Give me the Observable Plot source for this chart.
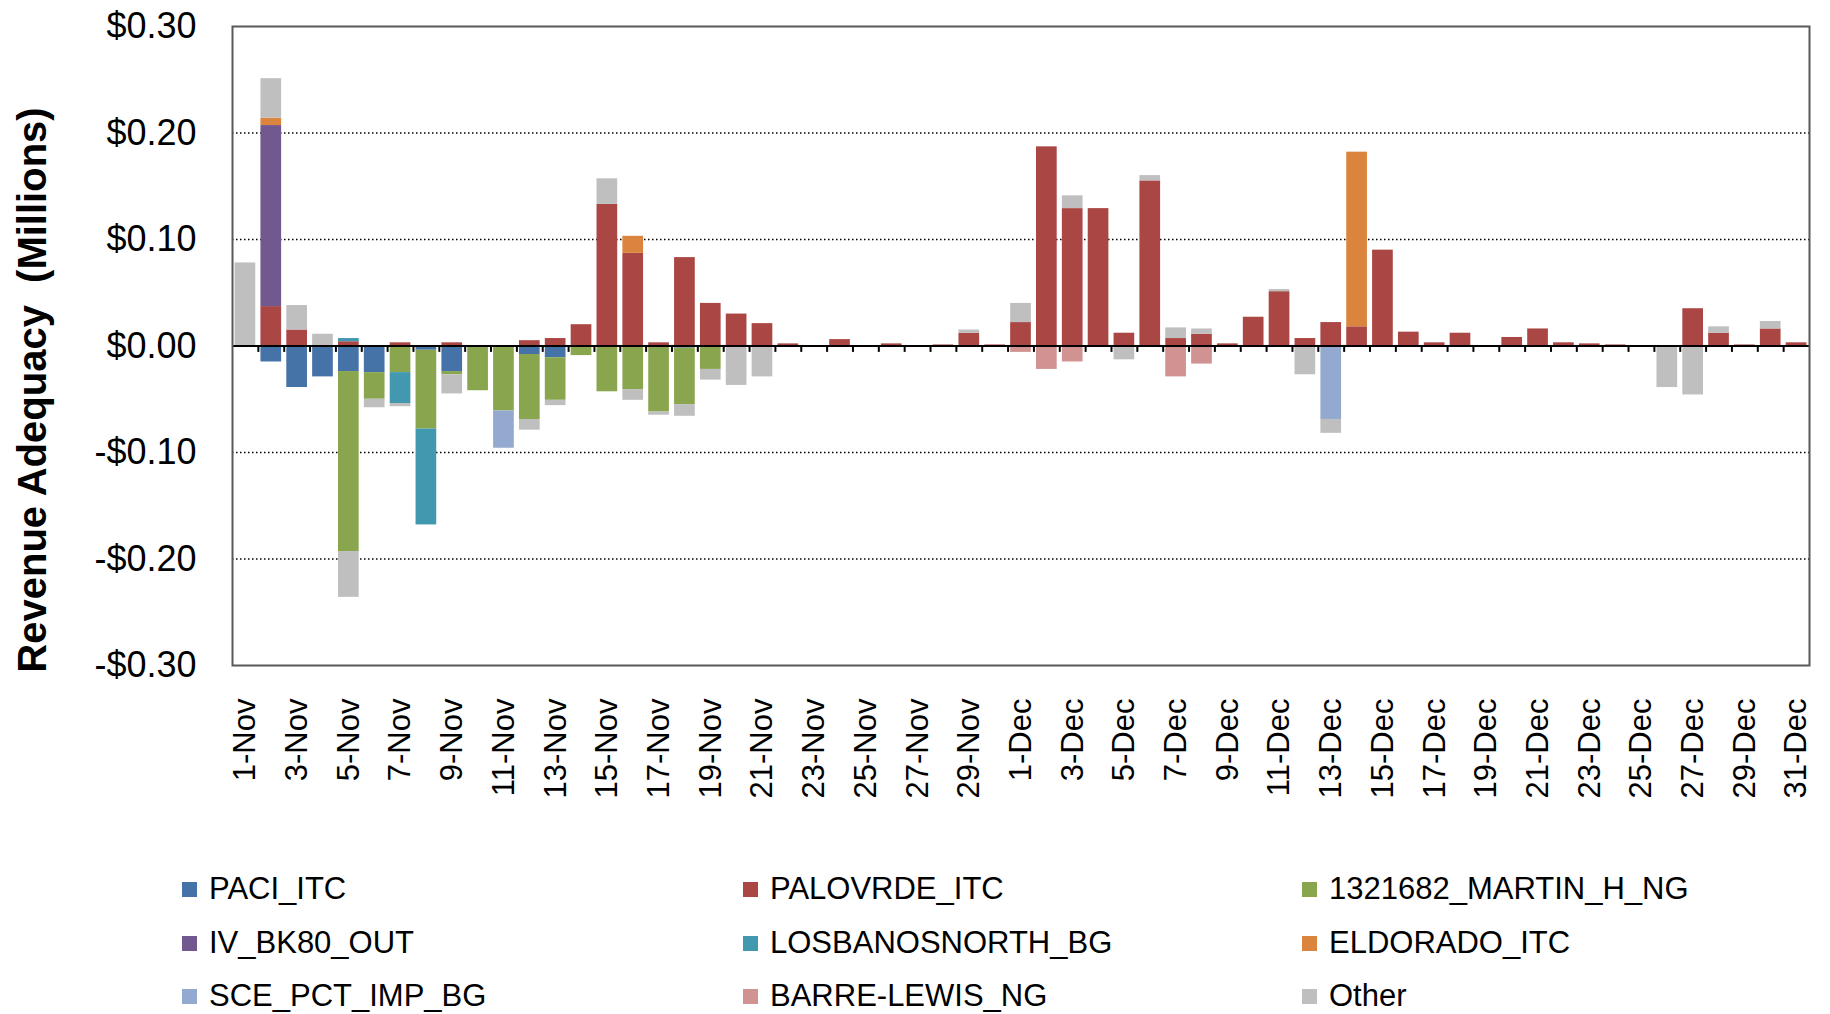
<!DOCTYPE html>
<html><head><meta charset="utf-8">
<script src="https://cdn.jsdelivr.net/npm/d3@7"></script>
<script src="https://cdn.jsdelivr.net/npm/@observablehq/plot@0.6"></script>
<style>
body{margin:0;background:#fff;font-family:"Liberation Sans",Arial,sans-serif;}
#wrap{position:relative;width:1830px;height:1014px;overflow:hidden;background:#fff;}
#chart{position:absolute;left:0;top:0;}
#ytitle{position:absolute;left:32px;top:390px;transform:translate(-50%,-50%) rotate(-90deg);white-space:pre;font-weight:bold;font-size:40px;color:#000;}
.item{position:absolute;display:flex;align-items:center;font-size:31px;line-height:32px;color:#000;white-space:nowrap;}
.sw{width:15px;height:15px;margin-right:12px;flex:none;}
</style></head><body>
<div id="wrap"><div id="chart"></div><div id="ytitle">Revenue Adequacy  (Millions)</div><div id="legend"></div></div>
<script>
const days = ["1-Nov","2-Nov","3-Nov","4-Nov","5-Nov","6-Nov","7-Nov","8-Nov","9-Nov","10-Nov",
"11-Nov","12-Nov","13-Nov","14-Nov","15-Nov","16-Nov","17-Nov","18-Nov","19-Nov","20-Nov",
"21-Nov","22-Nov","23-Nov","24-Nov","25-Nov","26-Nov","27-Nov","28-Nov","29-Nov","30-Nov",
"1-Dec","2-Dec","3-Dec","4-Dec","5-Dec","6-Dec","7-Dec","8-Dec","9-Dec","10-Dec",
"11-Dec","12-Dec","13-Dec","14-Dec","15-Dec","16-Dec","17-Dec","18-Dec","19-Dec","20-Dec",
"21-Dec","22-Dec","23-Dec","24-Dec","25-Dec","26-Dec","27-Dec","28-Dec","29-Dec","30-Dec","31-Dec"];
const labelDays = days.filter((d, i) => i % 2 === 0);
const yTicks = [-0.3, -0.2, -0.1, 0, 0.1, 0.2, 0.3];
const gridTicks = [-0.2, -0.1, 0.1, 0.2];

const series = ["PACI_ITC","PALOVRDE_ITC","1321682_MARTIN_H_NG","IV_BK80_OUT","LOSBANOSNORTH_BG","ELDORADO_ITC","SCE_PCT_IMP_BG","BARRE-LEWIS_NG","Other"];
const colors = ["#4572A7","#AA4643","#89A54E","#71588F","#4198AF","#DB843D","#93A9CF","#D19392","#BFBFBF"];

// values in $ millions, Nov 1 .. Dec 31
const paci = [0,-0.015,-0.039,-0.029,-0.024,-0.025,0,-0.004,-0.024,0,
0,-0.008,-0.011,0,0,0,0,-0.002,0,0,
0,0,0,0,0,0,0,0,0,0,
0,0,0,0,0,0,0,0,0,0,
0,0,0,0,0,0,0,0,0,0,
0,0,0,0,0,0,0,0,0,0,0];
const palovrde = [0,0.037,0.015,0,0.004,0,0.003,0,0.003,0,
0,0.005,0.007,0.020,0.133,0.087,0.003,0.083,0.040,0.030,
0.021,0.002,0,0.006,0,0.002,0,0.001,0.012,0.001,
0.022,0.187,0.129,0.129,0.012,0.155,0.007,0.011,0.002,0.027,
0.051,0.007,0.022,0.018,0.090,0.013,0.003,0.012,0,0.008,
0.016,0.003,0.002,0.001,0,0,0.035,0.012,0.001,0.016,0.003];
const martin = [0,0,0,0,-0.169,-0.025,-0.025,-0.074,-0.003,-0.042,
-0.061,-0.061,-0.040,-0.009,-0.043,-0.041,-0.062,-0.053,-0.022,0,
0,0,0,0,0,0,0,0,0,0,
0,0,0,0,0,0,0,0,0,0,
0,0,0,0,0,0,0,0,0,0,
0,0,0,0,0,0,0,0,0,0,0];
const ivbk80 = [0,0.170,0,0,0,0,0,0,0,0,
0,0,0,0,0,0,0,0,0,0,
0,0,0,0,0,0,0,0,0,0,
0,0,0,0,0,0,0,0,0,0,
0,0,0,0,0,0,0,0,0,0,
0,0,0,0,0,0,0,0,0,0,0];
const losbanos = [0,0,0,0,0.003,0,-0.029,-0.090,0,0,
0,0,0,0,0,0,0,0,0,0,
0,0,0,0,0,0,0,0,0,0,
0,0,0,0,0,0,0,0,0,0,
0,0,0,0,0,0,0,0,0,0,
0,0,0,0,0,0,0,0,0,0,0];
const eldorado = [0,0.007,0,0,0,0,0,0,0,0,
0,0,0,0,0,0.016,0,0,0,0,
0,0,0,0,0,0,0,0,0,0,
0,0,0,0,0,0,0,0,0,0,
0,0,0,0.164,0,0,0,0,0,0,
0,0,0,0,0,0,0,0,0,0,0];
const scepct = [0,0,0,0,0,0,0,0,0,0,
-0.035,0,0,0,0,0,0,0,0,0,
0,0,0,0,0,0,0,0,0,0,
0,0,0,0,0,0,0,0,0,0,
0,0,-0.069,0,0,0,0,0,0,0,
0,0,0,0,0,0,0,0,0,0,0];
const barre = [0,0,0,0,0,0,0,0,0,0,
0,0,0,0,0,0,0,0,0,0,
0,0,0,0,0,0,0,0,0,0,
-0.006,-0.022,-0.015,0,0,0,-0.029,-0.017,0,0,
0,0,0,0,0,0,0,0,0,0,
0,0,0,0,0,0,0,0,0,0,0];
const other = [0.078,0.037,0.023,0.011,-0.043,-0.008,-0.003,0,-0.018,0,
0,-0.010,-0.005,0,0.024,-0.010,-0.003,-0.011,-0.010,-0.037,
-0.029,0,0,0,0,0,0,0,0.003,0,
0.018,0,0.012,0,-0.013,0.005,0.010,0.005,0,0,
0.002,-0.027,-0.013,0,0,0,0,0,0,0,
0,0,0,0,0,-0.039,-0.046,0.006,0,0.007,0];

const seriesValues = [paci, palovrde, martin, ivbk80, losbanos, eldorado, scepct, barre, other];
const data = [];
days.forEach((day, i) => {
  series.forEach((s, k) => data.push({day, series: s, value: seriesValues[k][i]}));
});

const W = 1830, H = 860, ML = 232, MR = 21, MT = 26, MB = 195;
const step = (W - ML - MR) / days.length;
const fmt = d => (d < -1e-9 ? "-" : "") + "$" + Math.abs(d).toFixed(2);

const chart = Plot.plot({
  width: W, height: H,
  marginLeft: ML, marginRight: MR, marginTop: MT, marginBottom: MB,
  style: {fontFamily: "'Liberation Sans', Arial, sans-serif", fontSize: "31px", color: "#000", background: "#fff"},
  x: {domain: days, paddingInner: 0.2, paddingOuter: 0.1, label: null},
  y: {domain: [-0.3, 0.3], label: null},
  color: {domain: series, range: colors},
  marks: [
    Plot.ruleY(gridTicks, {stroke: "#000", strokeWidth: 1.5, strokeDasharray: "1.5,2.5"}),
    Plot.barY(data, {x: "day", y: "value", fill: "series"}),
    Plot.ruleY([0], {stroke: "#000", strokeWidth: 2}),
    Plot.ruleX(days.slice(1), {x: d => d, y1: 0, y2: -0.006, dx: -step / 2, stroke: "#000", strokeWidth: 2}),
    Plot.frame({stroke: "#595959", strokeWidth: 2}),
    Plot.axisY({ticks: yTicks, tickSize: 0, tickPadding: 36, tickFormat: fmt, fontSize: 36, label: null}),
    Plot.axisX({ticks: labelDays, tickSize: 0, tickPadding: 33, tickRotate: -90, fontSize: 31, label: null})
  ]
});
document.getElementById("chart").appendChild(chart);

const legend = document.getElementById("legend");
const colX = [182, 743, 1302];
const rowY = [889, 943, 996];
series.forEach((s, k) => {
  const item = document.createElement("div");
  item.className = "item";
  item.style.left = colX[k % 3] + "px";
  item.style.top = (rowY[Math.floor(k / 3)] - 16) + "px";
  const sw = document.createElement("span");
  sw.className = "sw";
  sw.style.background = colors[k];
  const t = document.createElement("span");
  t.textContent = s;
  item.appendChild(sw);
  item.appendChild(t);
  legend.appendChild(item);
});
</script>
</body></html>
